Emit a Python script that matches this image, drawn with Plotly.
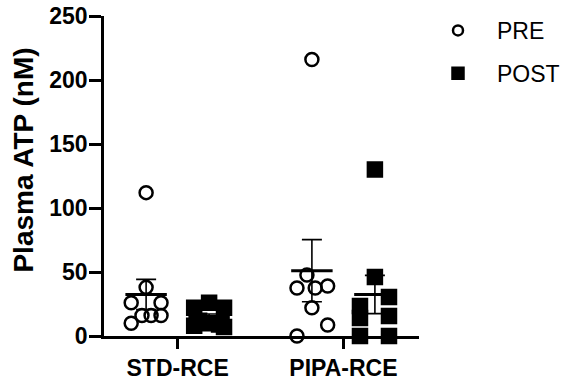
import numpy as np
import plotly.graph_objects as go

# ---- data ----
categories = ["STD-RCE", "PIPA-RCE"]
series_names = ["PRE", "POST"]
std_pre = [112, 38, 26, 26, 16, 16, 16, 10]
std_post = [22, 26, 22, 12, 10, 9, 8, 7]
pipa_pre = [216, 47.7, 37.5, 37.5, 39, 22, 8.6, 0]
pipa_post = [130, 46, 30.5, 23.4, 15.6, 14, 0, 0]
# horizontal scatter (jitter) of individual points, in category units
jit_std_pre = [0, 0, -0.09, 0.09, -0.025, 0.03, 0.09, -0.09]
jit_std_post = [-0.09, 0, 0.09, -0.06, 0, 0.06, -0.09, 0.09]
jit_pipa_pre = [0, -0.03, -0.09, 0.02, 0.095, 0, 0.095, -0.09]
jit_pipa_post = [0, 0, 0.085, -0.09, 0.085, -0.09, -0.09, 0.085]
y_ticks = [0, 50, 100, 150, 200, 250]
y_title = "Plasma ATP (nM)"

FONT = "Arial, Liberation Sans, sans-serif"
dx = 0.19       # group offset
half = 0.125    # mean line half width

groups = {
    "PRE": [(0, std_pre, jit_std_pre), (1, pipa_pre, jit_pipa_pre)],
    "POST": [(0, std_post, jit_std_post), (1, pipa_post, jit_pipa_post)],
}
offs = {"PRE": -dx, "POST": dx}
symbols = {"PRE": "circle-open", "POST": "square"}
sizes = {"PRE": 13, "POST": 14}
legend_sizes = {"PRE": 10, "POST": 11}

fig = go.Figure()

# error bars and means
for name in series_names:
    mx, my, ms = [], [], []
    lx, ly = [], []
    for c, vals, jit in groups[name]:
        v = np.array(vals, dtype=float)
        m = v.mean()
        sem = v.std(ddof=1) / np.sqrt(len(v))
        xc = c + offs[name]
        mx.append(xc); my.append(m); ms.append(sem)
        lx += [xc - half, xc + half, None]
        ly += [m, m, None]
    fig.add_trace(go.Scatter(
        x=mx, y=my, mode="markers", marker=dict(size=1, opacity=0),
        error_y=dict(type="data", array=ms, visible=True, color="black",
                     thickness=1.6, width=10),
        showlegend=False, hoverinfo="skip", cliponaxis=False))
    fig.add_trace(go.Scatter(
        x=lx, y=ly, mode="lines", line=dict(color="black", width=3),
        showlegend=False, hoverinfo="skip", cliponaxis=False))

# points
for name in series_names:
    xs, ys = [], []
    for c, vals, jit in groups[name]:
        xs += [c + offs[name] + j for j in jit]
        ys += list(vals)
    fig.add_trace(go.Scatter(
        x=xs, y=ys, mode="markers", name=name, legendgroup=name,
        showlegend=False,
        marker=dict(symbol=symbols[name], size=sizes[name], color="black",
                    line=dict(color="black", width=2.5)),
        cliponaxis=False))
    # legend entry (smaller symbol, as in the reference)
    fig.add_trace(go.Scatter(
        x=[None], y=[None], mode="markers", name=name, legendgroup=name,
        marker=dict(symbol=symbols[name], size=legend_sizes[name],
                    color="black", line=dict(color="black", width=2.5))))

fig.update_layout(
    width=568, height=382,
    margin=dict(l=104, r=143, t=16, b=46),
    plot_bgcolor="white", paper_bgcolor="white",
    font=dict(family=FONT, color="black"),
    showlegend=True,
    legend=dict(xref="container", yref="container",
                x=419 / 568, xanchor="left", y=1 - 9 / 382, yanchor="top",
                itemwidth=68, tracegroupgap=10,
                font=dict(size=23, family=FONT, color="black"),
                bgcolor="rgba(0,0,0,0)"),
    xaxis=dict(range=[-0.444, 1.456], tickvals=[0, 1], ticktext=categories,
               automargin=False,
               showline=True, linecolor="black", linewidth=2.5,
               ticks="outside", ticklen=10, tickwidth=2.5, tickcolor="black",
               showgrid=False, zeroline=False,
               tickfont=dict(size=23, family=FONT, weight="bold")),
    yaxis=dict(range=[0, 250], tickvals=y_ticks, automargin=False,
               showline=True, linecolor="black", linewidth=2.5,
               ticks="outside", ticklen=12, tickwidth=2.5, tickcolor="black",
               ticklabelstandoff=-3,
               showgrid=False, zeroline=False,
               tickfont=dict(size=23, family=FONT, weight="bold")),
    annotations=[dict(text=y_title, textangle=-90, xref="paper", yref="paper",
                      x=(21 - 104) / 321, y=(336 - 160) / 320,
                      xanchor="center", yanchor="middle", showarrow=False,
                      font=dict(size=28, family=FONT, weight="bold",
                                color="black"))],
)

fig.write_html("out.html")
